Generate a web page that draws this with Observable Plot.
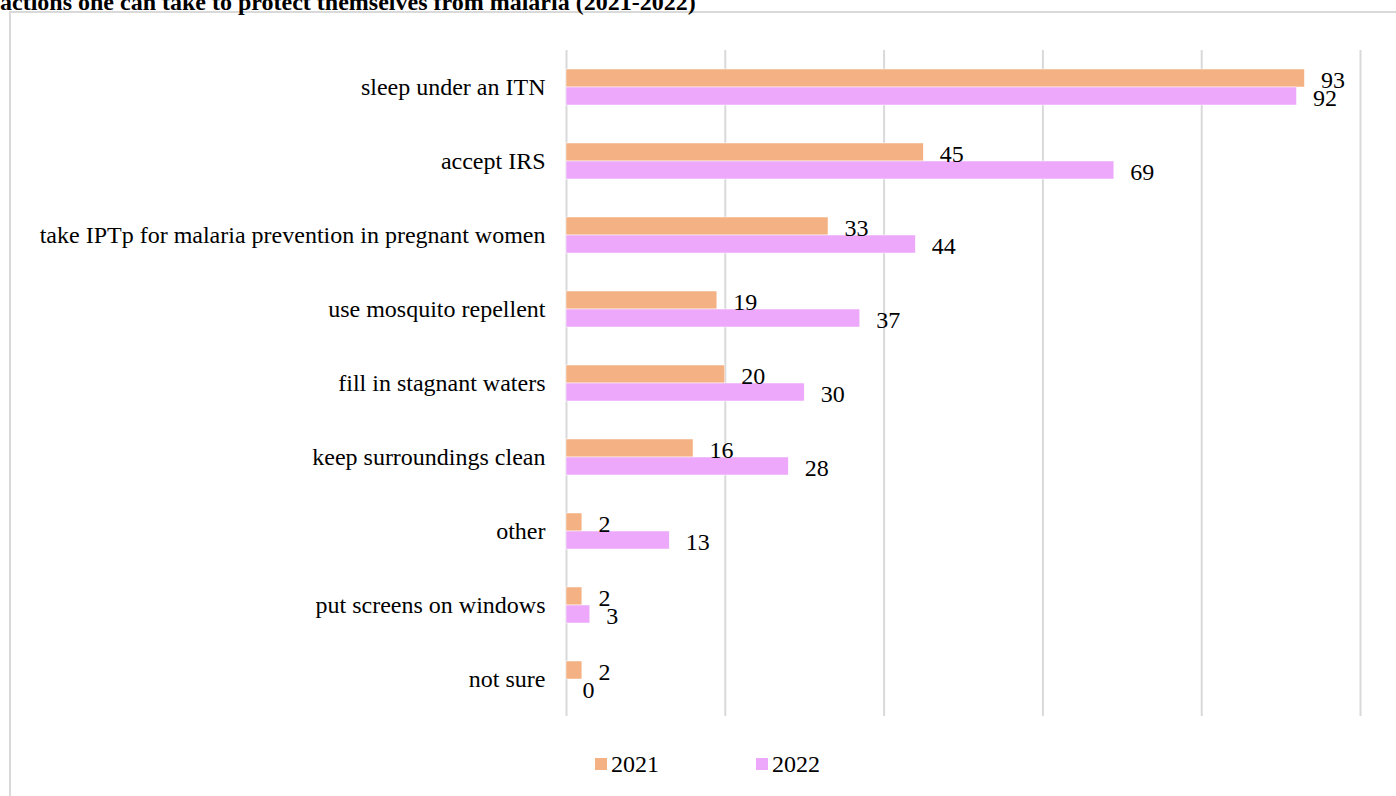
<!DOCTYPE html>
<html>
<head>
<meta charset="utf-8">
<script src="https://cdn.jsdelivr.net/npm/d3@7"></script>
<script src="https://cdn.jsdelivr.net/npm/@observablehq/plot@0.6"></script>
<style>
  html, body { margin: 0; padding: 0; background: #fff; overflow: hidden; width: 1396px; height: 796px; }
  body { position: relative; font-family: "Liberation Serif", "Times New Roman", serif; color: #000; }
  #title { position: absolute; left: 0; top: -10px; font-weight: bold; font-size: 24px; line-height: 24px; white-space: nowrap; }
  #frame { position: absolute; left: 9px; top: 11px; width: 1400px; height: 800px; border: 2px solid #d9d9d9; box-sizing: border-box; }
  #chart { position: absolute; left: 0; top: 0; }
  .leg { position: absolute; top: 751px; font-size: 24px; line-height: 26px; white-space: nowrap; }
  .sw { position: absolute; width: 12px; height: 12px; }
</style>
</head>
<body>
<div id="frame"></div>
<div id="title">actions one can take to protect themselves from malaria (2021-2022)</div>
<div id="chart"></div>
<div id="legend"></div>
<script>
const categories = [
  "sleep under an ITN",
  "accept IRS",
  "take IPTp for malaria prevention in pregnant women",
  "use mosquito repellent",
  "fill in stagnant waters",
  "keep surroundings clean",
  "other",
  "put screens on windows",
  "not sure"
];
const years = ["2021", "2022"];
const values2021 = [93, 45, 33, 19, 20, 16, 2, 2, 2];
const values2022 = [92, 69, 44, 37, 30, 28, 13, 3, 0];
const gridTicks = [0, 20, 40, 60, 80, 100];
const colors = ["#F4B183", "#EDA8FB"];

const data = categories.flatMap((c, i) => [
  {category: c, year: years[0], value: values2021[i]},
  {category: c, year: years[1], value: values2022[i]}
]);

const chart = Plot.plot({
  width: 1396,
  height: 740,
  marginLeft: 566,
  marginRight: 36,
  marginTop: 50,
  marginBottom: 24,
  style: {fontFamily: "Liberation Serif, serif", fontSize: "24px", background: "transparent", color: "#000"},
  x: {domain: [0, 100], axis: null},
  y: {domain: years, axis: null, paddingInner: 0, paddingOuter: 0.95},
  fy: {domain: categories, padding: 0, axis: "left", label: null, tickSize: 0, tickPadding: 21},
  color: {domain: years, range: colors},
  marks: [
    Plot.ruleX(gridTicks, {stroke: "#d9d9d9", strokeWidth: 2}),
    Plot.barX(data, {x: "value", y: "year", fy: "category", fill: "year", stroke: "#fff", strokeWidth: 0.5}),
    Plot.text(data, {x: "value", y: "year", fy: "category", text: d => String(d.value), textAnchor: "start", dx: 16, dy: 2, fontSize: 24, fill: "#000"})
  ]
});
document.getElementById("chart").appendChild(chart);

const legend = document.getElementById("legend");
const legPos = [{sw: 595, tx: 611}, {sw: 756, tx: 772}];
years.forEach((y, i) => {
  const s = document.createElement("div");
  s.className = "sw";
  s.style.left = legPos[i].sw + "px";
  s.style.top = "758px";
  s.style.background = colors[i];
  legend.appendChild(s);
  const t = document.createElement("div");
  t.className = "leg";
  t.style.left = legPos[i].tx + "px";
  t.textContent = y;
  legend.appendChild(t);
});
</script>
</body>
</html>
